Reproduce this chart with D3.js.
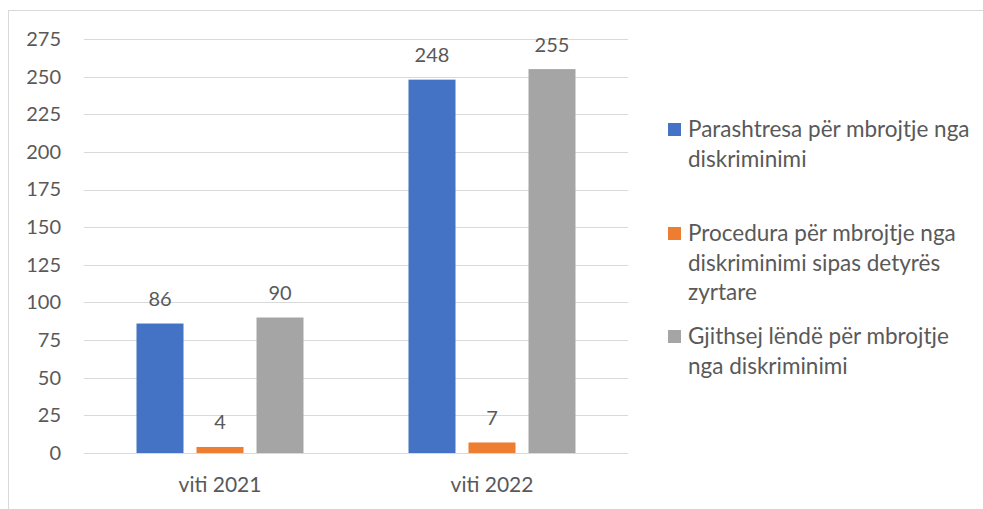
<!DOCTYPE html>
<html lang="sq">
<head>
<meta charset="UTF-8">
<title>Chart</title>
<script src="https://d3js.org/d3.v7.min.js"></script>
<style>
  body { margin: 0; background: #fff; }
  text { font-family: Lato, "Open Sans", sans-serif; fill: #595959; }
</style>
</head>
<body>
<script>
    // categories and series
    var categories = ["viti 2021", "viti 2022"];
    var seriesNames = [
        "Parashtresa për mbrojtje nga\ndiskriminimi",
        "Procedura për mbrojtje nga\ndiskriminimi sipas detyrës\nzyrtare",
        "Gjithsej lëndë për mbrojtje\nnga diskriminimi"
    ];
    var parashtresa = [86, 248];
    var procedura = [4, 7];
    var gjithsej = [90, 255];
    var yTicks = [0, 25, 50, 75, 100, 125, 150, 175, 200, 225, 250, 275];
    var colors = ["#4472C4", "#ED7D31", "#A5A5A5"];

    var seriesValues = [parashtresa, procedura, gjithsej];

    var width = 983, height = 509;
    var svg = d3.select("body").append("svg")
        .attr("width", width)
        .attr("height", height);

    // outer frame
    svg.append("rect")
        .attr("x", 8.5).attr("y", 10.5)
        .attr("width", 990).attr("height", 520)
        .attr("fill", "none")
        .attr("stroke", "#d9d9d9")
        .attr("stroke-width", 1);

    var plotLeft = 84, plotRight = 628, plotTop = 39, plotBottom = 453;

    var y = d3.scaleLinear().domain([0, 275]).range([plotBottom, plotTop]);
    var x0 = d3.scaleBand().domain(categories).range([plotLeft, plotRight]).padding(0);
    var x1 = d3.scaleBand().domain(d3.range(seriesNames.length))
        .range([0, x0.bandwidth()])
        .paddingInner(0.2167).paddingOuter(0.875);

    // gridlines
    svg.append("g").selectAll("line")
        .data(yTicks).enter().append("line")
        .attr("x1", plotLeft).attr("x2", plotRight)
        .attr("y1", d => Math.round(y(d)) + 0.5)
        .attr("y2", d => Math.round(y(d)) + 0.5)
        .attr("stroke", "#d9d9d9")
        .attr("stroke-width", 1);

    // y axis labels
    var yAxis = svg.append("g")
        .attr("transform", "translate(" + (plotLeft - 23) + ",0)")
        .call(d3.axisLeft(y).tickValues(yTicks).tickSize(0).tickPadding(0));
    yAxis.select(".domain").remove();
    yAxis.selectAll("text")
        .style("font-size", "20px")
        .attr("fill", "#595959");

    // x axis labels
    var xAxis = svg.append("g")
        .attr("transform", "translate(0," + (plotBottom + 24) + ")")
        .call(d3.axisBottom(x0).tickSize(0).tickPadding(0));
    xAxis.select(".domain").remove();
    xAxis.selectAll("text")
        .style("font-size", "21px")
        .attr("fill", "#595959");

    // bars
    var groups = svg.append("g").selectAll("g")
        .data(categories).enter().append("g")
        .attr("transform", d => "translate(" + x0(d) + ",0)");

    groups.selectAll("rect")
        .data((d, i) => seriesValues.map((s, k) => ({ k: k, v: s[i] })))
        .enter().append("rect")
        .attr("x", d => x1(d.k))
        .attr("width", x1.bandwidth())
        .attr("y", d => y(d.v))
        .attr("height", d => plotBottom - y(d.v))
        .attr("fill", d => colors[d.k]);

    groups.selectAll("text.lbl")
        .data((d, i) => seriesValues.map((s, k) => ({ k: k, v: s[i] })))
        .enter().append("text")
        .attr("class", "lbl")
        .attr("x", d => x1(d.k) + x1.bandwidth() / 2)
        .attr("y", d => y(d.v) - 17.5)
        .attr("text-anchor", "middle")
        .style("font-size", "20px")
        .text(d => d.v);

    // legend
    var legendY = [123, 227, 330];
    var legend = svg.append("g").selectAll("g")
        .data(seriesNames).enter().append("g")
        .attr("transform", (d, i) => "translate(668," + legendY[i] + ")");

    legend.append("rect")
        .attr("width", 13).attr("height", 13)
        .attr("fill", (d, i) => colors[i]);

    legend.append("text")
        .attr("x", 20)
        .attr("y", 14)
        .style("font-size", "22.5px")
        .selectAll("tspan")
        .data(d => d.split("\n"))
        .enter().append("tspan")
        .attr("x", 20)
        .attr("dy", (d, i) => i === 0 ? 0 : 29.5)
        .text(d => d);
</script>
</body>
</html>
